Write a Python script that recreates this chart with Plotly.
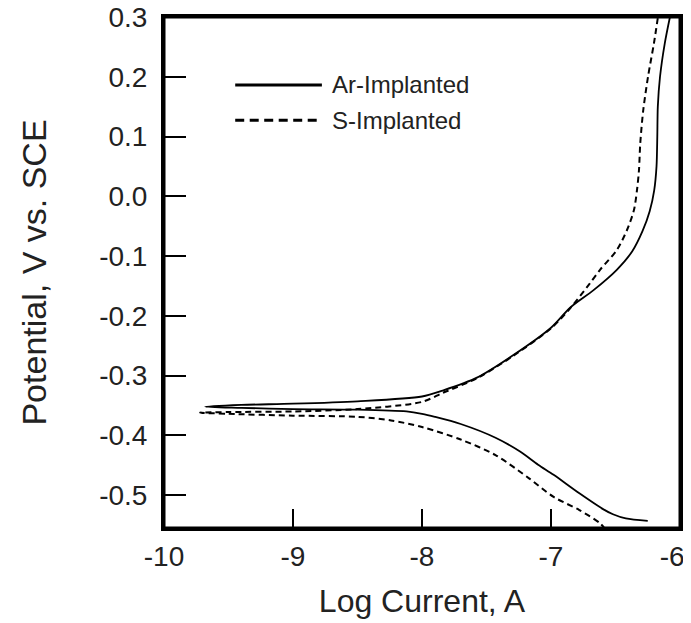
import plotly.graph_objects as go

# ---- Data ----
# Ar-Implanted (solid): cathodic branch from bottom-right end to the tip, then anodic branch to the top
ar_log_current = [-6.25, -6.42, -6.52, -6.60, -6.78, -6.98, -7.10, -7.24, -7.43, -7.70, -7.90, -8.00,
                  -8.12, -8.50, -9.00, -9.40, -9.68,
                  -9.40, -9.00, -8.50, -8.00, -7.84, -7.57, -7.30, -7.00, -6.85, -6.67, -6.49,
                  -6.37, -6.29, -6.235, -6.20, -6.182, -6.176, -6.172, -6.155, -6.118, -6.078]
ar_potential = [-0.543, -0.539, -0.532, -0.523, -0.497, -0.466, -0.449, -0.427, -0.404, -0.381, -0.369, -0.364,
                -0.360, -0.357, -0.356, -0.354, -0.352,
                -0.349, -0.347, -0.343, -0.335, -0.325, -0.303, -0.267, -0.220, -0.186, -0.157, -0.123,
                -0.092, -0.058, -0.025, 0.010, 0.050, 0.100, 0.150, 0.200, 0.256, 0.300]

# S-Implanted (dashed)
s_log_current = [-6.58, -6.62, -6.78, -6.98, -7.17, -7.43, -7.70, -8.00, -8.24, -8.50, -9.00, -9.50, -9.72,
                 -9.50, -9.00, -8.50, -8.00, -7.84, -7.57, -7.30, -7.00, -6.85, -6.70, -6.62, -6.49,
                 -6.41, -6.357, -6.333, -6.318, -6.308, -6.285, -6.248, -6.202, -6.171]
s_potential = [-0.557, -0.547, -0.525, -0.503, -0.472, -0.433, -0.407, -0.386, -0.375, -0.369, -0.367, -0.364, -0.362,
               -0.361, -0.360, -0.356, -0.344, -0.329, -0.304, -0.268, -0.221, -0.187, -0.146, -0.123, -0.090,
               -0.056, -0.023, 0.011, 0.044, 0.089, 0.144, 0.200, 0.256, 0.300]

series_names = ["Ar-Implanted", "S-Implanted"]

x_tick_vals = [-10, -9, -8, -7, -6]
# the last label sits left of its tick in the reference (kept inside the picture)
x_tick_text = ["-10", "-9", "-8", "-7", "-6\u00a0\u00a0"]
y_tick_vals = [0.3, 0.2, 0.1, 0.0, -0.1, -0.2, -0.3, -0.4, -0.5]
y_tick_text = ["0.3", "0.2", "0.1", "0.0", "-0.1", "-0.2", "-0.3", "-0.4", "-0.5"]

x_title = "Log Current, A"
y_title = "Potential, V vs. SCE"

FONT = "Liberation Sans, Arial, Helvetica, sans-serif"
TXT = "#222"

fig = go.Figure()
fig.add_trace(go.Scatter(x=ar_log_current, y=ar_potential, mode="lines", name=series_names[0],
                         line=dict(color="black", width=1.8, shape="spline", smoothing=0.8),
                         showlegend=False))
fig.add_trace(go.Scatter(x=s_log_current, y=s_potential, mode="lines", name=series_names[1],
                         line=dict(color="black", width=2, dash="6px,4px", shape="spline", smoothing=0.8),
                         showlegend=False))

# Frame around the plotting area
fig.add_shape(type="rect", xref="paper", yref="paper", x0=0, x1=1, y0=0, y1=1,
              line=dict(color="black", width=3), fillcolor="rgba(0,0,0,0)", layer="above")

# Legend drawn inside the plot
legend_rows = [(0.867, "solid"), (0.798, "9px,5.5px")]
for (yy, dash), name in zip(legend_rows, series_names):
    fig.add_shape(type="line", xref="paper", yref="paper", x0=0.138, x1=0.306, y0=yy, y1=yy,
                  line=dict(color="black", width=3, dash=dash))
    fig.add_annotation(xref="paper", yref="paper", x=0.321, y=yy, text=name, showarrow=False,
                       xanchor="left", yanchor="middle", font=dict(family=FONT, size=24, color=TXT))

# the page body has an 8px margin, so the figure is 8px smaller than the window
fig.update_layout(
    width=683, height=615,
    margin=dict(l=156, r=11, t=9, b=95, autoexpand=False),
    paper_bgcolor="white", plot_bgcolor="white",
    font=dict(family=FONT, color=TXT),
    showlegend=False,
)
fig.update_xaxes(range=[-10, -6], tickvals=x_tick_vals, ticktext=x_tick_text,
                 ticks="inside", ticklen=19, tickwidth=2, tickcolor="black",
                 showline=True, linewidth=3, linecolor="black", mirror=True,
                 showgrid=False, zeroline=False, automargin=False,
                 ticklabeloverflow="allow",
                 tickfont=dict(family=FONT, size=28, color=TXT),
                 ticklabelstandoff=1,
                 title=dict(text=x_title, font=dict(family=FONT, size=32, color=TXT), standoff=20))
fig.update_yaxes(range=[-0.555, 0.3], tickvals=y_tick_vals, ticktext=y_tick_text,
                 ticks="inside", ticklen=22, tickwidth=2, tickcolor="black",
                 showline=True, linewidth=3, linecolor="black", mirror=True,
                 showgrid=False, zeroline=False, automargin=False,
                 ticklabeloverflow="allow",
                 tickfont=dict(family=FONT, size=28, color=TXT),
                 ticklabelstandoff=8,
                 title=dict(text=y_title, font=dict(family=FONT, size=34, color=TXT), standoff=43))

fig.write_html("out.html")
